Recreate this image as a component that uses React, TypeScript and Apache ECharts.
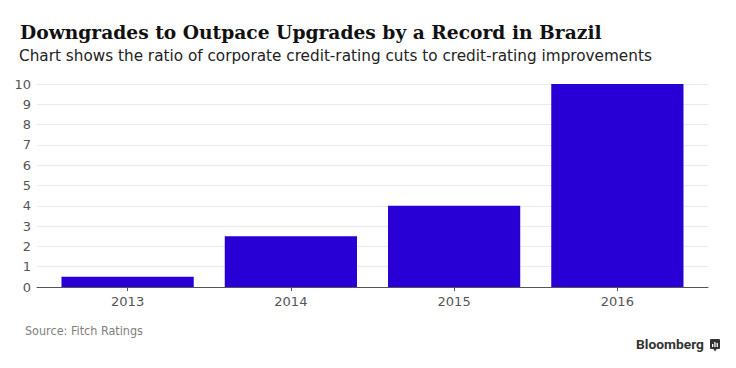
import React, { useEffect, useRef } from "react";
import * as echarts from "echarts";

const categories = ["2013", "2014", "2015", "2016"];
const ratios = [0.5, 2.5, 4, 10];
const yTicks = [0, 1, 2, 3, 4, 5, 6, 7, 8, 9, 10];

const TITLE = "Downgrades to Outpace Upgrades by a Record in Brazil";
const SUBTITLE = "Chart shows the ratio of corporate credit-rating cuts to credit-rating improvements";
const SOURCE = "Source: Fitch Ratings";
const BRAND = "Bloomberg";

function fitScale(text: string, font: string, target: number): number {
  const c = document.createElement("canvas").getContext("2d");
  if (!c) return 1;
  c.font = font;
  const w = c.measureText(text).width;
  return w > 0 ? target / w : 1;
}

export default function App() {
  const ref = useRef<HTMLDivElement>(null);
  useEffect(() => {
    const chart = echarts.init(ref.current!, null, { renderer: "svg" });
    const gridTop = 84;
    const gridBottom = 81;
    const titleFont = "bold 19px 'DejaVu Serif', serif";
    const subFont = "16px 'DejaVu Sans', sans-serif";
    const srcFont = "12px 'DejaVu Sans', sans-serif";
    const brandFont = "bold 13px Roboto, sans-serif";
    chart.setOption({
      animation: false,
      backgroundColor: "#ffffff",
      graphic: [
        {
          type: "text",
          x: 20,
          y: 32,
          scaleX: fitScale(TITLE, titleFont, 582),
          style: { text: TITLE, font: titleFont, fill: "#111111", verticalAlign: "middle" },
        },
        {
          type: "text",
          x: 19,
          y: 55.5,
          scaleX: fitScale(SUBTITLE, subFont, 633),
          style: { text: SUBTITLE, font: subFont, fill: "#222222", verticalAlign: "middle" },
        },
        {
          type: "text",
          x: 25,
          y: 331,
          scaleX: fitScale(SOURCE, srcFont, 118),
          style: { text: SOURCE, font: srcFont, fill: "#808080", verticalAlign: "middle" },
        },
        {
          type: "text",
          x: 636,
          y: 345,
          scaleX: fitScale(BRAND, brandFont, 68),
          style: { text: BRAND, font: brandFont, fill: "#333333", verticalAlign: "middle" },
        },
        {
          type: "group",
          x: 710,
          y: 339,
          children: [
            { type: "rect", shape: { x: 0, y: 0, width: 10, height: 10, r: 1 }, style: { fill: "#333333" } },
            { type: "polygon", shape: { points: [[3, 9.5], [5, 12.5], [7, 9.5]] }, style: { fill: "#333333" } },
            { type: "rect", shape: { x: 2, y: 5, width: 1.3, height: 3 }, style: { fill: "#ffffff" } },
            { type: "rect", shape: { x: 4.3, y: 3, width: 1.3, height: 5 }, style: { fill: "#ffffff" } },
            { type: "rect", shape: { x: 6.6, y: 4, width: 1.3, height: 4 }, style: { fill: "#ffffff" } },
          ],
        },
      ],
      grid: [
        { left: 37, right: 28, top: gridTop, bottom: gridBottom },
        { left: 46, right: 37, top: gridTop, bottom: gridBottom },
      ],
      xAxis: [
        {
          gridIndex: 0,
          type: "value",
          min: 0,
          max: 1,
          axisLine: { show: true, onZero: false, lineStyle: { color: "#555555", width: 1 } },
          axisTick: { show: false },
          axisLabel: { show: false },
          splitLine: { show: false },
        },
        {
          gridIndex: 1,
          type: "category",
          data: categories,
          axisLine: { show: false },
          axisTick: { show: true, alignWithLabel: true, length: 4, lineStyle: { color: "#555555" } },
          axisLabel: {
            color: "#555555",
            fontSize: 13,
            fontFamily: "'DejaVu Sans', sans-serif",
            margin: 8,
          },
          splitLine: { show: false },
        },
      ],
      yAxis: [
        {
          gridIndex: 0,
          type: "value",
          min: yTicks[0],
          max: yTicks[yTicks.length - 1],
          interval: 1,
          axisLine: { show: false },
          axisTick: { show: false },
          axisLabel: {
            color: "#555555",
            fontSize: 13,
            fontFamily: "'DejaVu Sans', sans-serif",
            margin: 6,
          },
          splitLine: { show: true, lineStyle: { color: "#ebebeb", width: 1 } },
        },
        {
          gridIndex: 1,
          type: "value",
          min: yTicks[0],
          max: yTicks[yTicks.length - 1],
          show: false,
        },
      ],
      series: [
        {
          type: "bar",
          xAxisIndex: 1,
          yAxisIndex: 1,
          data: ratios,
          barWidth: "81%",
          itemStyle: { color: "#2800d6" },
        },
      ],
    });
    return () => chart.dispose();
  }, []);
  return <div ref={ref} style={{ width: 736, height: 368, position: "absolute", left: 0, top: 0 }} />;
}
